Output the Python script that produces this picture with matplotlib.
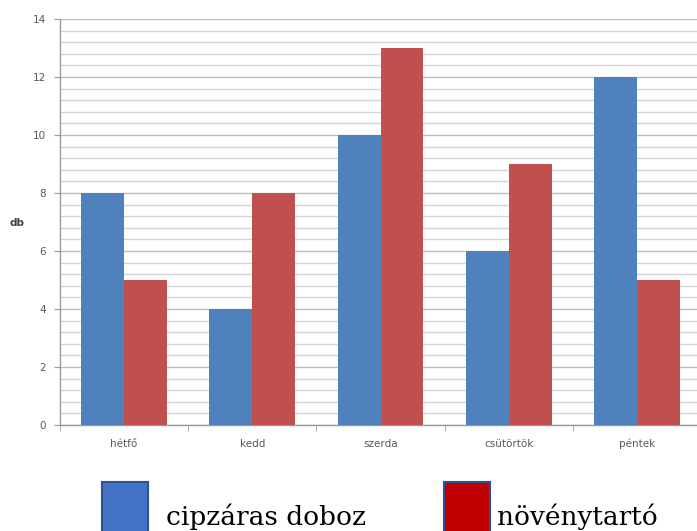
import numpy as np
import matplotlib
matplotlib.use("Agg")
import matplotlib.pyplot as plt
from matplotlib.patches import Rectangle
from matplotlib.ticker import MultipleLocator

# Data
days = ["hétfő", "kedd", "szerda", "csütörtök", "péntek"]
series_names = ["cipzáras doboz", "növénytartó"]
zip_boxes = [8, 4, 10, 6, 12]
plant_holders = [5, 8, 13, 9, 5]
y_label = "db"

bar_colors = ["#4F81BD", "#C0504D"]
legend_colors = ["#4472C4", "#C00000"]

W, H = 697, 531
fig = plt.figure(figsize=(W / 100, H / 100), dpi=100)
ax = fig.add_axes([60 / W, 1 - 425 / H, 641 / W, 406 / H])

x = np.arange(len(days))
bw = 0.335
ax.bar(x - bw / 2, zip_boxes, width=bw, color=bar_colors[0], zorder=3)
ax.bar(x + bw / 2, plant_holders, width=bw, color=bar_colors[1], zorder=3)

ax.set_xlim(-0.5, len(days) - 0.5)
ax.set_ylim(0, 14)
ax.yaxis.set_major_locator(MultipleLocator(2))
ax.yaxis.set_minor_locator(MultipleLocator(0.4))
ax.grid(axis="y", which="major", color="#bdbdbd", linewidth=1.0, zorder=0)
ax.grid(axis="y", which="minor", color="#d4d4d4", linewidth=1.0, zorder=0)

tick_fs = 7.5

# Category labels centred on a common baseline, ticks at category boundaries
ax.set_xticks(x)
ax.set_xticklabels(days, fontsize=tick_fs, color="#595959")
ax.tick_params(axis="x", which="major", length=0, pad=16)
for lbl in ax.get_xticklabels():
    lbl.set_verticalalignment("baseline")
ax.set_xticks(np.arange(-0.5, len(days)), minor=True)
ax.tick_params(axis="x", which="minor", length=4, color="#9a9a9a", direction="out")
ax.tick_params(axis="y", which="major", length=4, color="#9a9a9a",
               labelsize=tick_fs, labelcolor="#595959", pad=6)
ax.tick_params(axis="y", which="minor", length=0)

for side in ["top", "right"]:
    ax.spines[side].set_visible(False)
for side in ["left", "bottom"]:
    ax.spines[side].set_color("#9a9a9a")
    ax.spines[side].set_linewidth(1.0)

fig.text(17 / W, 1 - 223 / H, y_label, fontsize=tick_fs, fontweight="bold",
         color="#404040", ha="center", va="center")

# Legend drawn below the chart
legend_x = [102, 444]
text_x = [166, 497]
for lx, tx, col, name in zip(legend_x, text_x, legend_colors, series_names):
    fig.patches.append(Rectangle((lx / W, -0.05), 46 / W, 0.05 + 1 - 482 / H,
                                 transform=fig.transFigure, facecolor=col,
                                 edgecolor="#2F528F", linewidth=1.5))
    fig.text(tx / W, 1 - 525 / H, name, fontsize=19, family="DejaVu Serif",
             color="black", ha="left", va="baseline")

fig.savefig("out.png", dpi=100)
